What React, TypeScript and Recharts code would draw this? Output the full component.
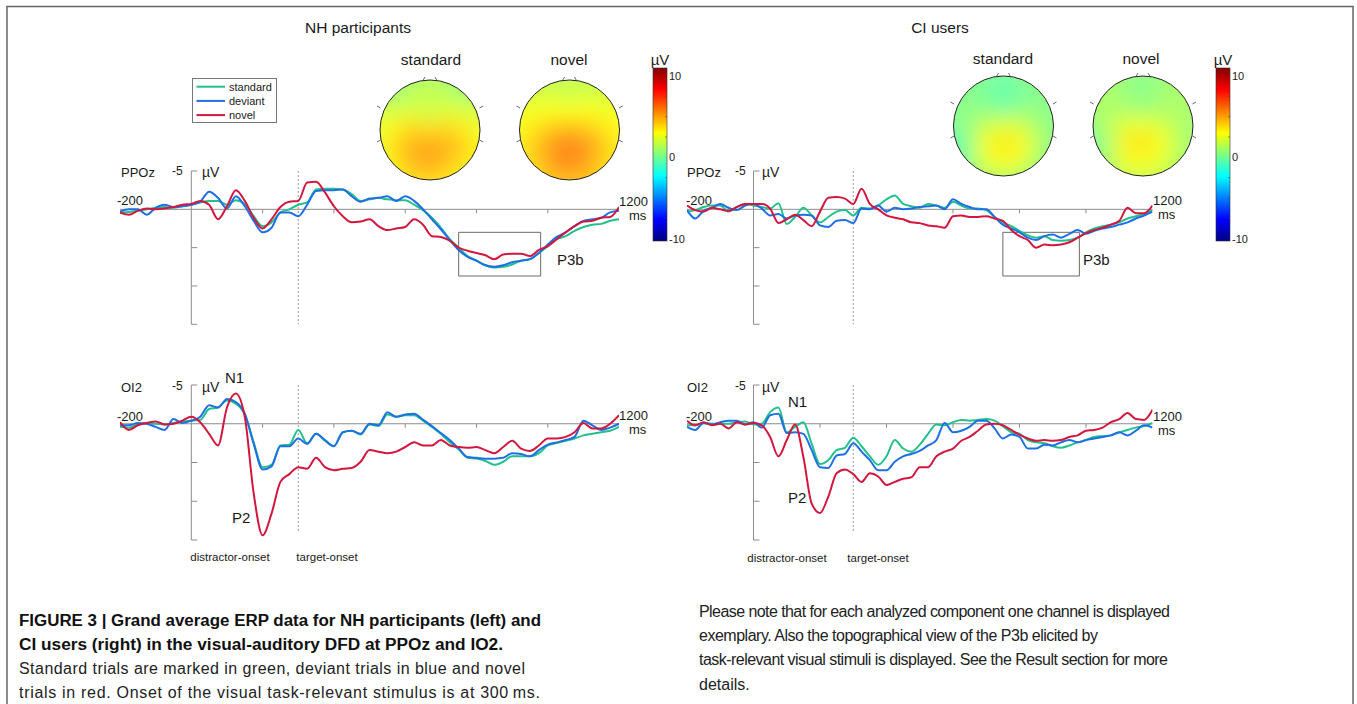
import React from 'react';
import { LineChart, Line, XAxis, YAxis, ReferenceLine, ReferenceArea } from 'recharts';

// ---------- data ----------
const TIME_MS = [
  -200, -175, -150, -125, -100, -75, -50, -25,
  0, 25, 50, 75, 100, 125, 150, 175,
  200, 225, 250, 275, 300, 325, 350, 375,
  400, 425, 450, 475, 500, 525, 550, 575,
  600, 625, 650, 675, 700, 725, 750, 775,
  800, 825, 850, 875, 900, 925, 950, 975,
  1000, 1025, 1050, 1075, 1100, 1125, 1150, 1175,
  1200,
];

const NH_PPOZ_STANDARD = [
  0.4, 0.35, 0.2, 0, -0.2, -0.3, -0.2, -0.4,
  -0.6, -0.9, -1.1, -1.1, -0.6, -1.2, -0.7, 0.9,
  2.2, 1.7, 0.4, 0, -0.6, -0.9, -2.6, -2.7,
  -2.7, -2.6, -2.0, -1.1, -1.3, -1.5, -1.3, -1.2,
  -1.2, -0.6, 0.1, 1.1, 2.4, 3.9, 5.0, 6.1,
  6.7, 7.3, 7.6, 7.5, 7.2, 6.7, 6.5, 5.7,
  4.8, 3.9, 3.5, 2.8, 2.3, 2.0, 1.9, 1.5,
  1.3,
];
const NH_PPOZ_DEVIANT = [
  0.3, 0, 0, 0.7, -0.2, -0.6, -0.3, -0.4,
  -0.6, -1.0, -2.3, -1.5, -0.1, -1.7, -0.4, 1.5,
  3.0, 2.4, 0.4, 0.4, 0.9, -0.6, -2.4, -2.5,
  -2.5, -2.6, -1.7, -1.0, -1.4, -1.5, -1.7, -1.1,
  -1.7, -1.1, 0, 1.3, 2.6, 4.0, 5.3, 6.2,
  6.7, 7.3, 7.5, 7.3, 6.9, 6.7, 6.5, 5.7,
  4.6, 3.6, 3.0, 2.2, 1.5, 1.3, 1.1, 0.4,
  0.2,
];
const NH_PPOZ_NOVEL = [
  0.4, 0.7, 0.2, -0.1, 0, -0.1, -0.3, -0.6,
  -0.7, -1.1, -0.6, 1.3, -0.4, -2.5, -1.1, 1.1,
  2.5, 1.3, -0.3, -1.0, -1.1, -3.5, -3.6, -2.2,
  -0.4, 0.9, 1.7, 1.6, 1.3, 2.2, 2.7, 2.5,
  2.3, 1.3, 2.0, 3.5, 3.6, 4.1, 5.0, 5.4,
  5.7, 6.0, 6.5, 5.9, 5.8, 5.8, 6.1, 5.3,
  4.8, 3.9, 3.0, 2.2, 1.6, 1.5, 1.1, 1.0,
  -0.3,
];

const NH_OI2_STANDARD = [
  0.4, 0.5, 0.1, -0.1, 0, 0.1, -0.1, -0.3,
  -0.4, -0.5, -1.9, -2.1, -3.0, -2.6, -1.2, 2.4,
  5.6, 5.3, 2.8, 2.7, 0.8, 2.5, 1.3, 2.2,
  2.9, 1.1, 0.9, 1.4, 0.1, 0.3, -1.2, -0.9,
  -1.1, -1.1, -0.4, 0.4, 1.3, 2.4, 3.3, 4.4,
  4.5, 4.8, 5.3, 4.9, 4.2, 4.2, 4.2, 3.8,
  2.8, 2.5, 2.2, 1.9, 1.5, 1.3, 1.1, 0.9,
  0.4,
];
const NH_OI2_DEVIANT = [
  0.2, 0.2, -0.1, 0, 0.4, 0.8, -0.6, -0.1,
  -0.4, -0.9, -2.4, -2.1, -3.2, -2.8, -1.3, 2.6,
  5.9, 5.5, 2.9, 2.9, 1.9, 2.6, 1.3, 2.1,
  2.9, 1.1, 0.9, 1.3, 0, 0.2, -1.5, -0.9,
  -1.2, -1.3, -0.5, 0.3, 1.2, 2.1, 3.2, 4.3,
  4.4, 4.5, 4.5, 4.4, 3.8, 3.9, 4.2, 3.4,
  2.7, 2.4, 2.1, 1.7, -0.4, 0.2, 0.8, 0.5,
  0,
];
const NH_OI2_NOVEL = [
  -0.2, 0.8, 0.2, -0.1, -0.3, 0.1, 0, -0.4,
  -0.9, -0.2, 1.3, 2.8, -2.1, -3.9, -0.9, 9.0,
  14.4, 11.6, 7.5, 6.5, 5.6, 5.8, 4.4, 5.6,
  6.0, 5.8, 5.7, 4.9, 3.4, 3.6, 3.8, 3.6,
  3.0, 2.4, 2.8, 2.8, 2.1, 2.8, 3.0, 3.1,
  3.0, 3.4, 3.8, 3.0, 2.2, 3.2, 3.5, 2.8,
  1.9, 1.9, 1.7, 1.1, -0.1, 0.6, 0.6, 0,
  -1.1,
];

const CI_PPOZ_STANDARD = [
  0.3, 0.1, -0.3, -0.5, -0.5, 0.3, -0.3, -0.7,
  -0.5, -0.3, -0.1, -0.8, 1.9, 1.0, -0.2, 0.8,
  1.7, 1.0, 0.3, 0.1, 0.8, -0.2, -0.1, -0.5,
  -1.3, -1.8, -0.7, -0.4, -0.2, -0.7, -0.5, -0.2,
  -1.0, -0.5, -0.1, -0.1, 0.1, 1.0, 1.7, 2.2,
  2.8, 3.4, 3.7, 3.5, 4.0, 4.1, 4.0, 3.7,
  3.0, 2.5, 2.2, 2.0, 1.7, 1.2, 0.9, 0.6,
  0.1,
];
const CI_PPOZ_DEVIANT = [
  0.1, 1.2, 0.2, -0.2, -0.7, -0.2, 0.1, -0.5,
  -0.7, -0.1, 0.8, 0.6, 1.2, 0.8, 0.7, 0.8,
  2.1, 2.3, 1.5, 1.4, 1.8, -0.1, 0, -0.5,
  0.3, -0.2, 0, -0.1, -0.3, -0.4, -0.5, 0,
  -1.3, -0.7, -0.3, 0, 0, 1.0, 2.0, 2.5,
  3.0, 3.7, 4.0, 3.5, 3.3, 3.7, 3.2, 2.7,
  3.2, 2.8, 2.5, 2.3, 2.0, 1.7, 1.2, 0.8,
  0.3,
];
const CI_PPOZ_NOVEL = [
  -0.5, 0.1, 0.3, -0.2, 0, 0.2, -0.3, -0.7,
  -0.7, -0.7, -0.1, 1.8, 1.3, 0.7, 1.4, 2.2,
  0.3, -1.5, -1.6, -1.4, -0.7, -2.7, -0.7, 0,
  0.8, 1.1, 1.3, 1.7, 1.8, 2.1, 2.2, 2.4,
  0.9, 0.8, 1.0, 1.0, 0.9, 1.2, 1.5, 2.7,
  3.5, 4.0, 5.0, 4.6, 4.7, 4.6, 4.3, 3.7,
  3.1, 2.7, 2.4, 2.0, 1.5, -0.2, 0.5, 0.5,
  -0.5,
];

const CI_OI2_STANDARD = [
  0.2, 0.2, -0.1, 0, 0, 0, -0.2, -0.3,
  0.1, 0, -1.5, -2.1, 1.1, 0.4, -0.2, 2.6,
  5.2, 4.7, 3.4, 3.1, 1.8, 2.9, 4.2, 5.3,
  4.2, 2.1, 3.2, 3.6, 2.7, 1.3, 0.1, 0.2,
  -0.2, -0.5, -0.4, -0.5, -0.6, -0.4, 0.3, 1.1,
  1.3, 2.1, 2.4, 2.5, 2.9, 3.1, 2.8, 2.4,
  2.1, 1.7, 1.6, 1.5, 1.1, 0.8, 0.5, 0.3,
  -0.1,
];
const CI_OI2_DEVIANT = [
  0.4, 0.8, -0.1, 0.1, -0.2, -0.4, -0.4, 0.1,
  -0.2, 0.5, -1.1, -1.3, 1.2, 1.1, 1.3, 3.4,
  5.6, 5.7, 4.1, 3.9, 2.5, 3.6, 4.7, 6.0,
  6.0, 4.9, 4.2, 3.9, 3.5, 2.8, 2.1, -0.1,
  1.1, 0.9, 0.4, -0.4, -0.4, 0.6, 1.9, 1.4,
  1.7, 3.2, 3.2, 2.7, 2.8, 2.4, 2.1, 2.4,
  2.1, 1.9, 1.7, 1.5, 1.1, 1.5, 0.9, 0.2,
  0.5,
];
const CI_OI2_NOVEL = [
  -0.4, 0.2, -0.2, 0.2, 0, 0.6, -0.2, 0.1,
  -0.1, 0.2, 1.7, 4.2, 2.1, 0.1, 4.3, 10.3,
  11.5, 9.4, 6.4, 5.9, 6.5, 7.5, 6.4, 6.8,
  7.9, 7.5, 7.1, 6.9, 5.6, 5.6, 4.2, 3.6,
  3.2, 2.2, 1.7, 0.9, 0.1, 0, 0.2, 0.8,
  1.4, 1.9, 2.2, 2.1, 2.2, 2.1, 1.7, 1.5,
  0.9, 0.8, 0.5, -0.2, -0.6, -1.4, -0.6, -0.5,
  -1.8,
];

const Y_TICKS = [-5, 5, 10, 15];
const X_TICKS = [200, 400, 600, 800, 1000];
const LEGEND_LABELS = ['standard', 'deviant', 'novel'];
const COLORBAR_TICKS = [10, 0, -10];

// topographic maps, 7x7 grid of µV values (rows top -> bottom)
const NH_TOPO_STANDARD = [
  [1.2, 1.0, 1.0, 1.2, 1.0, 1.0, 1.2],
  [1.6, 0.6, 1.4, 1.8, 1.4, 0.6, 1.6],
  [2.2, 2.0, 2.4, 1.8, 2.4, 2.2, 2.2],
  [2.6, 3.2, 4.0, 3.8, 4.0, 3.4, 2.6],
  [2.6, 3.8, 4.9, 5.2, 4.8, 4.0, 3.0],
  [2.6, 3.4, 4.5, 4.8, 4.3, 3.4, 2.6],
  [2.6, 3.0, 3.6, 3.8, 3.4, 3.0, 2.6],
];
const NH_TOPO_NOVEL = [
  [1.8, 1.7, 1.7, 1.7, 1.7, 1.7, 1.8],
  [2.2, 2.0, 2.0, 1.8, 2.0, 2.0, 2.2],
  [2.8, 2.8, 3.0, 2.9, 3.0, 2.8, 2.8],
  [3.0, 3.6, 4.4, 4.8, 4.4, 3.6, 3.0],
  [3.2, 4.2, 5.4, 6.0, 5.4, 4.2, 3.2],
  [3.2, 3.9, 5.0, 5.6, 5.0, 3.9, 3.2],
  [3.0, 3.5, 4.2, 4.4, 4.2, 3.5, 3.0],
];
const CI_TOPO_STANDARD = [
  [0.3, 0.3, 0.3, 0.0, 0.3, 0.3, 0.3],
  [0.3, 0.3, 0.0, -0.6, 0.0, 0.3, 0.3],
  [0.4, 0.4, 0.4, -0.2, 0.4, 0.4, 0.4],
  [0.0, 0.6, 1.8, 2.3, 2.1, 0.9, 0.3],
  [-0.6, 0.0, 2.9, 3.6, 3.1, 1.3, 0.3],
  [-0.6, 0.2, 2.3, 2.8, 2.5, 0.9, 0.3],
  [0.0, 0.3, 1.0, 1.3, 1.0, 0.6, 0.3],
];
const CI_TOPO_NOVEL = [
  [0.8, 0.8, 0.8, 0.4, 0.8, 0.8, 0.8],
  [1.1, 1.1, 0.8, 0.2, 0.8, 1.1, 1.1],
  [1.1, 1.1, 1.1, 0.7, 1.1, 1.1, 1.1],
  [0.4, 1.3, 2.4, 2.6, 2.2, 1.3, 0.8],
  [-0.2, 0.8, 3.3, 3.7, 2.9, 1.5, 0.8],
  [0.2, 1.1, 2.6, 2.9, 2.4, 1.3, 0.8],
  [0.5, 0.8, 1.5, 1.8, 1.5, 1.1, 0.8],
];

const CAPTION_LEFT = [
  'FIGURE 3 | Grand average ERP data for NH participants (left) and',
  'CI users (right) in the visual-auditory DFD at PPOz and IO2.',
  'Standard trials are marked in green, deviant trials in blue and novel',
  'trials in red. Onset of the visual task-relevant stimulus is at 300\u2009ms.',
];
const CAPTION_RIGHT = [
  'Please note that for each analyzed component one channel is displayed',
  'exemplary. Also the topographical view of the P3b elicited by',
  'task-relevant visual stimuli is displayed. See the Result section for more',
  'details.',
];

// ---------- style ----------
const GREEN = '#22c08c';
const BLUE = '#1f6fe4';
const RED = '#d2173f';
const SERIES_COLORS = [GREEN, BLUE, RED];
const AXIS = '#8c8c8c';
const FONT = '"Liberation Sans", Arial, Helvetica, sans-serif';

function jet(v: number, wash = 0, lo = -10.3, hi = 11): string {
  const n = (v - lo) / (hi - lo);
  const c = (x: number) => Math.max(0, Math.min(1, x));
  const r = c(1.5 - Math.abs(4 * n - 3));
  const g = c(1.5 - Math.abs(4 * n - 2));
  const b = c(1.5 - Math.abs(4 * n - 1));
  const m = (x: number) => Math.round((x * (1 - wash) + wash) * 255);
  return `rgb(${m(r)},${m(g)},${m(b)})`;
}

type PanelProps = {
  px0: number; px1: number; py0: number; py1: number;
  std: number[]; dev: number[]; nov: number[];
  box: boolean; dashBottom: number;
};

function ErpPanel(p: PanelProps) {
  const M = 6;
  const w = p.px1 - p.px0;
  const h = p.py1 - p.py0;
  const tickMs = (6 * 1400) / w;
  const tickUv = (4 * 20) / h;
  const data = TIME_MS.map((t, i) => ({ t, s: p.std[i], d: p.dev[i], n: p.nov[i] }));
  return (
    <div style={{ position: 'absolute', left: p.px0 - M, top: p.py0 - M }}>
      <LineChart width={w + 2 * M} height={h + 2 * M} data={data} margin={{ top: M, right: M, bottom: M, left: M }}>
        <XAxis type="number" dataKey="t" domain={[-200, 1200]} hide allowDataOverflow />
        <YAxis type="number" domain={[-5, 15]} reversed hide allowDataOverflow />
        <ReferenceLine y={0} stroke={AXIS} strokeWidth={1} />
        <ReferenceLine segment={[{ x: 0, y: -5 }, { x: 0, y: 15 }]} stroke={AXIS} strokeWidth={1} />
        {Y_TICKS.map((v) => (
          <ReferenceLine key={'y' + v} segment={[{ x: 0, y: v }, { x: tickMs, y: v }]} stroke={AXIS} strokeWidth={1} />
        ))}
        {X_TICKS.map((t) => (
          <ReferenceLine key={'x' + t} segment={[{ x: t, y: 0 }, { x: t, y: tickUv }]} stroke={AXIS} strokeWidth={1} />
        ))}
        <ReferenceLine segment={[{ x: 300, y: -5 }, { x: 300, y: p.dashBottom }]} stroke="#9a9a9a" strokeDasharray="2 2" strokeWidth={1} />
        {p.box && (
          <ReferenceArea x1={750} x2={980} y1={3} y2={8.7} fill="#ffffff" fillOpacity={0} stroke="#6a6a6a" strokeWidth={1} />
        )}
        <Line type="monotone" dataKey="s" stroke={GREEN} strokeWidth={2} dot={false} isAnimationActive={false} />
        <Line type="monotone" dataKey="d" stroke={BLUE} strokeWidth={2} dot={false} isAnimationActive={false} />
        <Line type="monotone" dataKey="n" stroke={RED} strokeWidth={2} dot={false} isAnimationActive={false} />
      </LineChart>
    </div>
  );
}

function Topo({ cx, cy, r, grid, id }: { cx: number; cy: number; r: number; grid: number[][]; id: string }) {
  const n = grid.length;
  const pad = 14;
  const span = 2 * r + 2 * pad;
  const cell = span / n;
  return (
    <g>
      <defs>
        <clipPath id={'clip' + id}>
          <circle cx={cx} cy={cy} r={r} />
        </clipPath>
        <filter id={'blur' + id} x="-10%" y="-10%" width="120%" height="120%">
          <feGaussianBlur stdDeviation={cell * 0.55} />
        </filter>
      </defs>
      <g clipPath={`url(#clip${id})`}>
        <g filter={`url(#blur${id})`}>
          {grid.map((row, i) =>
            row.map((v, j) => (
              <rect
                key={i + '-' + j}
                x={cx - r - pad + j * cell - 0.5}
                y={cy - r - pad + i * cell - 0.5}
                width={cell + 1}
                height={cell + 1}
                fill={jet(v, 0.1)}
              />
            ))
          )}
        </g>
      </g>
      <circle cx={cx} cy={cy} r={r} fill="none" stroke="#222" strokeWidth={1} />
      <line x1={cx - 7} y1={cy - r + 0.5} x2={cx - 5} y2={cy - r - 3} stroke="#444" strokeWidth={0.8} />
      <line x1={cx + 7} y1={cy - r + 0.5} x2={cx + 5} y2={cy - r - 3} stroke="#444" strokeWidth={0.8} />
      <line x1={cx - r + 0.5} y1={cy - 22} x2={cx - r - 3} y2={cy - 24} stroke="#444" strokeWidth={0.8} />
      <line x1={cx - r + 0.5} y1={cy + 10} x2={cx - r - 3} y2={cy + 12} stroke="#444" strokeWidth={0.8} />
      <line x1={cx + r - 0.5} y1={cy - 22} x2={cx + r + 3} y2={cy - 24} stroke="#444" strokeWidth={0.8} />
      <line x1={cx + r - 0.5} y1={cy + 10} x2={cx + r + 3} y2={cy + 12} stroke="#444" strokeWidth={0.8} />
    </g>
  );
}

function Colorbar({ x, y0, y1, id }: { x: number; y0: number; y1: number; id: string }) {
  const lo = -10.3, hi = 11;
  const yOf = (v: number) => y0 + ((hi - v) / (hi - lo)) * (y1 - y0);
  const stops = [0, 0.125, 0.375, 0.625, 0.875, 1];
  const minor = [7.5, 5, 2.5, -2.5, -5, -7.5];
  return (
    <g>
      <defs>
        <linearGradient id={'cb' + id} x1="0" y1="1" x2="0" y2="0">
          {stops.map((s) => (
            <stop key={s} offset={s} stopColor={jet(lo + s * (hi - lo))} />
          ))}
        </linearGradient>
      </defs>
      <rect x={x} y={y0} width={14} height={y1 - y0} fill={`url(#cb${id})`} stroke="#333" strokeWidth={0.6} />
      {minor.map((v) => (
        <line key={v} x1={x + 12} x2={x + 14} y1={yOf(v)} y2={yOf(v)} stroke="#444" strokeWidth={0.6} />
      ))}
      {COLORBAR_TICKS.map((v) => (
        <text key={v} x={x + 16} y={yOf(v) + 4} fontSize={11} fontFamily={FONT} fill="#222">{v}</text>
      ))}
      <text x={x + 7} y={y0 - 3} fontSize={15} fontFamily={FONT} fill="#222" textAnchor="middle">µV</text>
    </g>
  );
}

function T({ x, y, size = 13, anchor = 'start', children }: any) {
  return (
    <text x={x} y={y} fontSize={size} fontFamily={FONT} fill="#1a1a1a" textAnchor={anchor}>{children}</text>
  );
}

export default function App() {
  return (
    <div style={{ position: 'absolute', left: 0, top: 0, width: 1357, height: 704, background: '#fff', overflow: 'hidden' }}>
      <ErpPanel px0={120.4} px1={619.5} py0={170.7} py1={324} std={NH_PPOZ_STANDARD} dev={NH_PPOZ_DEVIANT} nov={NH_PPOZ_NOVEL} box dashBottom={15} />
      <ErpPanel px0={120.4} px1={619.5} py0={385} py1={540} std={NH_OI2_STANDARD} dev={NH_OI2_DEVIANT} nov={NH_OI2_NOVEL} box={false} dashBottom={14.1} />
      <ErpPanel px0={686.8} px1={1152.3} py0={170.7} py1={324} std={CI_PPOZ_STANDARD} dev={CI_PPOZ_DEVIANT} nov={CI_PPOZ_NOVEL} box dashBottom={15} />
      <ErpPanel px0={686.8} px1={1152.3} py0={385} py1={540} std={CI_OI2_STANDARD} dev={CI_OI2_DEVIANT} nov={CI_OI2_NOVEL} box={false} dashBottom={14.1} />

      <svg width={1357} height={704} style={{ position: 'absolute', left: 0, top: 0, pointerEvents: 'none' }}>
        <polyline points="7,704 7,6.5 1353,6.5 1353,704" fill="none" stroke="#666" strokeWidth={1.5} />

        <T x={358} y={33} size={15.5} anchor="middle">NH participants</T>
        <T x={940} y={33} size={15.5} anchor="middle">CI users</T>
        <T x={431} y={65} size={15.5} anchor="middle">standard</T>
        <T x={569} y={65} size={15.5} anchor="middle">novel</T>
        <T x={1003} y={64} size={15.5} anchor="middle">standard</T>
        <T x={1141} y={64} size={15.5} anchor="middle">novel</T>

        <Topo cx={430} cy={130} r={50} grid={NH_TOPO_STANDARD} id="nhs" />
        <Topo cx={569.5} cy={130} r={50} grid={NH_TOPO_NOVEL} id="nhn" />
        <Topo cx={1003.5} cy={126} r={50} grid={CI_TOPO_STANDARD} id="cis" />
        <Topo cx={1143} cy={126} r={50} grid={CI_TOPO_NOVEL} id="cin" />
        <Colorbar x={653} y0={68} y1={241} id="nh" />
        <Colorbar x={1216} y0={68} y1={241} id="ci" />

        <rect x={192.5} y={78.5} width={84} height={44} fill="#fff" stroke="#777" strokeWidth={1} />
        {LEGEND_LABELS.map((lab, i) => (
          <g key={lab}>
            <line x1={196.5} x2={225} y1={86.7 + i * 14.2} y2={86.7 + i * 14.2} stroke={SERIES_COLORS[i]} strokeWidth={2} />
            <T x={229} y={90.5 + i * 14.2} size={11}>{lab}</T>
          </g>
        ))}

        <T x={121} y={177} size={13}>PPOz</T>
        <T x={172} y={175} size={12}>-5</T>
        <T x={202} y={177} size={14}>µV</T>
        <T x={117} y={205} size={13}>-200</T>
        <T x={619} y={206} size={13}>1200</T>
        <T x={629} y={220} size={13}>ms</T>
        <T x={557} y={265} size={15}>P3b</T>

        <T x={121} y={392} size={13}>OI2</T>
        <T x={172} y={390} size={12}>-5</T>
        <T x={202} y={392} size={14}>µV</T>
        <T x={225} y={383} size={15}>N1</T>
        <T x={117} y={421} size={13}>-200</T>
        <T x={619} y={420} size={13}>1200</T>
        <T x={629} y={434} size={13}>ms</T>
        <T x={232} y={523} size={15}>P2</T>
        <T x={230} y={561} size={11.5} anchor="middle">distractor-onset</T>
        <T x={327} y={561} size={11.5} anchor="middle">target-onset</T>

        <T x={687} y={177} size={13}>PPOz</T>
        <T x={735} y={175} size={12}>-5</T>
        <T x={762} y={177} size={14}>µV</T>
        <T x={686} y={205} size={13}>-200</T>
        <T x={1153} y={205} size={13}>1200</T>
        <T x={1158} y={219} size={13}>ms</T>
        <T x={1083} y={265} size={15}>P3b</T>

        <T x={687} y={392} size={13}>OI2</T>
        <T x={735} y={390} size={12}>-5</T>
        <T x={762} y={392} size={14}>µV</T>
        <T x={788} y={407} size={15}>N1</T>
        <T x={686} y={421} size={13}>-200</T>
        <T x={1153} y={421} size={13}>1200</T>
        <T x={1158} y={435} size={13}>ms</T>
        <T x={788} y={503} size={15}>P2</T>
        <T x={787} y={562} size={11.5} anchor="middle">distractor-onset</T>
        <T x={878} y={562} size={11.5} anchor="middle">target-onset</T>

        <text x={19} y={626} fontSize={16} fontWeight="bold" fontFamily={FONT} fill="#111" textLength={522} lengthAdjust="spacingAndGlyphs">{CAPTION_LEFT[0]}</text>
        <text x={19} y={650} fontSize={16} fontWeight="bold" fontFamily={FONT} fill="#111" textLength={484} lengthAdjust="spacingAndGlyphs">{CAPTION_LEFT[1]}</text>
        <text x={19} y={674} fontSize={16} fontFamily={FONT} fill="#222" textLength={506} lengthAdjust="spacing">{CAPTION_LEFT[2]}</text>
        <text x={19} y={698} fontSize={16} fontFamily={FONT} fill="#222" textLength={521} lengthAdjust="spacing">{CAPTION_LEFT[3]}</text>
        <text x={699} y={617} fontSize={16} fontFamily={FONT} fill="#222" textLength={471} lengthAdjust="spacing">{CAPTION_RIGHT[0]}</text>
        <text x={699} y={641} fontSize={16} fontFamily={FONT} fill="#222" textLength={399} lengthAdjust="spacing">{CAPTION_RIGHT[1]}</text>
        <text x={699} y={665} fontSize={16} fontFamily={FONT} fill="#222" textLength={469} lengthAdjust="spacing">{CAPTION_RIGHT[2]}</text>
        <text x={699} y={690} fontSize={16} fontFamily={FONT} fill="#222">{CAPTION_RIGHT[3]}</text>
      </svg>
    </div>
  );
}
